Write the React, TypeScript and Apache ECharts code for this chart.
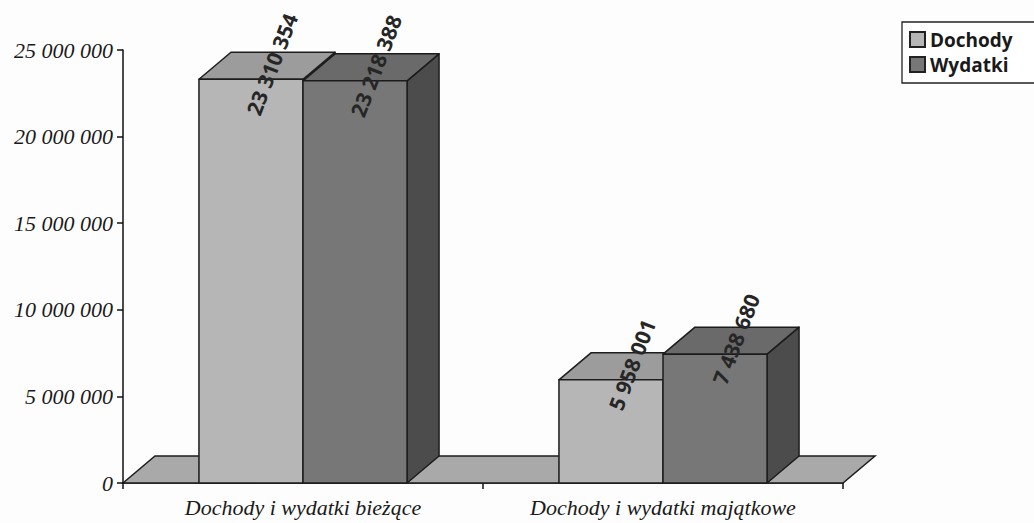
import React, { useEffect, useRef } from "react";
import * as echarts from "echarts";

const categories = ["Dochody i wydatki bieżące", "Dochody i wydatki majątkowe"];
const seriesNames = ["Dochody", "Wydatki"];
const dochody = [23310354, 5958001];
const wydatki = [23218388, 7438680];
const yTicks = [0, 5000000, 10000000, 15000000, 20000000, 25000000];

const fmt = (v: number) => String(Math.round(v)).replace(/\B(?=(\d{3})+(?!\d))/g, " ");

const DX = 32;
const DY = -27;
const BAR_FRAC = 0.289;
const STROKE = "#1c1c1c";

const palette = [
  { front: "#b6b6b6", top: "#9c9c9c", side: "#888888" },
  { front: "#777777", top: "#6a6a6a", side: "#4c4c4c" },
];

function barRender(s: number) {
  return (params: any, api: any) => {
    const cat = api.value(0);
    const val = api.value(1);
    const base = api.coord([cat, 0]);
    const topP = api.coord([cat, val]);
    const band = api.size([1, 0])[0];
    const bw = band * BAR_FRAC;
    const x0 = base[0] - bw + s * bw;
    const x1 = x0 + bw;
    const y0 = base[1];
    const yt = topP[1];
    const c = palette[s];
    const ls = { stroke: STROKE, lineWidth: 1.5, lineJoin: "round" };
    return {
      type: "group",
      children: [
        {
          type: "polygon",
          shape: { points: [[x1, yt], [x1 + DX, yt + DY], [x1 + DX, y0 + DY], [x1, y0]] },
          style: { fill: c.side, ...ls },
        },
        {
          type: "polygon",
          shape: { points: [[x0, yt], [x0 + DX, yt + DY], [x1 + DX, yt + DY], [x1, yt]] },
          style: { fill: c.top, ...ls },
        },
        {
          type: "rect",
          shape: { x: x0, y: yt, width: bw, height: y0 - yt },
          style: { fill: c.front, ...ls },
        },
      ],
    };
  };
}

const labelData: number[][] = [];
dochody.forEach((v, i) => labelData.push([i, v, 0]));
wydatki.forEach((v, i) => labelData.push([i, v, 1]));

export default function App() {
  const ref = useRef<HTMLDivElement>(null);
  useEffect(() => {
    if (!ref.current) return;
    const chart = echarts.init(ref.current, null, { renderer: "svg" });
    chart.setOption({
      animation: false,
      backgroundColor: "#fdfdfd",
      grid: { left: 123, right: 191, top: 50, bottom: 40 },
      legend: {
        data: seriesNames,
        orient: "vertical",
        left: 902,
        top: 22,
        backgroundColor: "#ffffff",
        borderColor: "#222222",
        borderWidth: 1.3,
        borderRadius: 0,
        padding: [8, 40, 9, 7],
        itemGap: 6,
        itemWidth: 15,
        itemHeight: 15,
        icon: "rect",
        textStyle: {
          fontFamily: "Open Sans",
          fontWeight: "bold",
          fontSize: 19,
          lineHeight: 19,
          color: "#1a1a1a",
          padding: [0, 0, 0, 0],
        },
      },
      xAxis: {
        type: "category",
        data: categories,
        boundaryGap: true,
        axisLine: { show: true, lineStyle: { color: "#111", width: 1.5 } },
        axisTick: { show: true, length: 6, lineStyle: { color: "#111", width: 1.5 } },
        axisLabel: {
          interval: 0,
          fontFamily: "Liberation Serif",
          fontStyle: "italic",
          fontSize: 22,
          color: "#1a1a1a",
          margin: 13,
        },
      },
      yAxis: {
        type: "value",
        min: 0,
        max: 25000000,
        interval: 5000000,
        splitLine: { show: false },
        axisLine: { show: true, lineStyle: { color: "#111", width: 1.5 } },
        axisTick: { show: true, length: 6, lineStyle: { color: "#111", width: 1.5 } },
        axisLabel: {
          fontFamily: "Liberation Serif",
          fontStyle: "italic",
          fontSize: 22,
          color: "#1a1a1a",
          margin: 10,
          formatter: (v: number) => (yTicks.includes(v) ? fmt(v) : ""),
        },
      },
      series: [
        {
          type: "custom",
          name: "floor",
          z: 1,
          silent: true,
          data: [[0, 0]],
          encode: { x: 0, y: 1 },
          renderItem: (params: any, api: any) => {
            const cs = params.coordSys;
            const y0 = api.coord([0, 0])[1];
            const gx = cs.x;
            const gw = cs.width;
            return {
              type: "polygon",
              shape: { points: [[gx, y0], [gx + DX, y0 + DY], [gx + gw + DX, y0 + DY], [gx + gw, y0]] },
              style: { fill: "#a9a9a9", stroke: STROKE, lineWidth: 1.5 },
            };
          },
        },
        {
          type: "custom",
          name: seriesNames[0],
          z: 2,
          itemStyle: { color: palette[0].front, borderColor: "#222", borderWidth: 1 },
          data: dochody.map((v, i) => [i, v]),
          encode: { x: 0, y: 1 },
          renderItem: barRender(0),
        },
        {
          type: "custom",
          name: seriesNames[1],
          z: 3,
          itemStyle: { color: palette[1].front, borderColor: "#222", borderWidth: 1 },
          data: wydatki.map((v, i) => [i, v]),
          encode: { x: 0, y: 1 },
          renderItem: barRender(1),
        },
        {
          type: "custom",
          name: "labels",
          z: 4,
          silent: true,
          data: labelData,
          encode: { x: 0, y: 1 },
          renderItem: (params: any, api: any) => {
            const cat = api.value(0);
            const val = api.value(1);
            const s = api.value(2);
            const base = api.coord([cat, 0]);
            const topP = api.coord([cat, val]);
            const band = api.size([1, 0])[0];
            const bw = band * BAR_FRAC;
            const cx = base[0] - bw + s * bw + bw / 2;
            return {
              type: "text",
              x: cx + 21,
              y: topP[1] - 15,
              rotation: (69 * Math.PI) / 180,
              style: {
                text: fmt(val),
                fontFamily: "Open Sans",
                fontWeight: "bold",
                fontSize: 21,
                fill: "#262626",
                align: "center",
                verticalAlign: "middle",
              },
            };
          },
        },
      ],
    });
    return () => chart.dispose();
  }, []);
  return (
    <div
      ref={ref}
      style={{ position: "fixed", left: 0, top: 0, width: 1034, height: 523 }}
    />
  );
}
